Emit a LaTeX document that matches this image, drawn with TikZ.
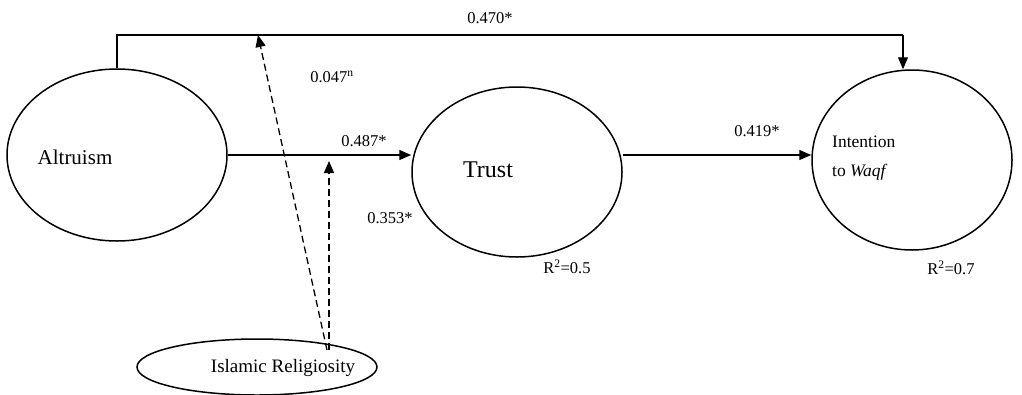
\documentclass[tikz,border=0pt]{standalone}
\usepackage{fontspec}
\setmainfont{Liberation Serif}
\usetikzlibrary{shapes.geometric,arrows.meta}
\begin{document}
\begin{tikzpicture}[x=1pt,y=-1pt,
  construct/.style={ellipse,draw,line width=1.5pt,inner sep=0pt},
  path/.style={line width=1.2pt,-{Triangle[length=12pt,width=10pt]}},
  mod/.style={line width=1.3pt,dash pattern=on 7pt off 4pt,-{Triangle[length=12pt,width=10pt]}},
  lbl/.style={font=\fontsize{16.5}{18}\selectfont,inner sep=0pt},
  ctext/.style={inner sep=0pt}]
\useasboundingbox (0,0) rectangle (1022,394);
\node[construct,minimum width=220pt,minimum height=172pt] (alt) at (117,155) {};
\node[construct,minimum width=210pt,minimum height=170pt] (trust) at (517,172) {};
\node[construct,minimum width=200pt,minimum height=180pt] (intent) at (912,160) {};
\node[construct,minimum width=240pt,minimum height=56pt] (ir) at (257,367) {};
\node[ctext,font=\fontsize{21}{23}\selectfont] (alttxt) at (75,157) {Altruism};
\node[ctext,font=\fontsize{24}{26}\selectfont] (trusttxt) at (488,170) {Trust};
\node[align=left,inner sep=0pt,anchor=west,font=\fontsize{17.5}{29}\selectfont] (intenttxt) at (832,158) {Intention\\to \textit{Waqf}};
\node[ctext,font=\fontsize{19}{21}\selectfont] (irtxt) at (283,368) {Islamic Religiosity};

\coordinate (tl) at (117,35);
\coordinate (tr) at (903,35);
\coordinate (m1) at (258,35);
\coordinate (m2) at (329,161);
\coordinate (s1) at (327,350);
\coordinate (s2) at (329,350);

\draw[line width=1.2pt] (alt.north) -- (tl) -- (tr);
\draw[path] (tr) -- (tr |- intent.north);
\draw[path] (alt.east) -- (alt.east -| trust.west);
\draw[path] (trust.east |- alt.east) -- (alt.east -| intent.west);
\draw[mod] (s1) -- (m1);
\draw[mod] (s2) -- (m2);

\node[lbl] (l1) at (490,18) {0.470*};
\node[lbl] (l2) at (332,77) {0.047\textsuperscript{n}};
\node[lbl] (l3) at (364,141) {0.487*};
\node[lbl] (l4) at (390,218) {0.353*};
\node[lbl] (l5) at (757,131) {0.419*};
\node[lbl] (l6) at (567,267) {R\textsuperscript{2}=0.5};
\node[lbl] (l7) at (951,268) {R\textsuperscript{2}=0.7};
\end{tikzpicture}
\end{document}
